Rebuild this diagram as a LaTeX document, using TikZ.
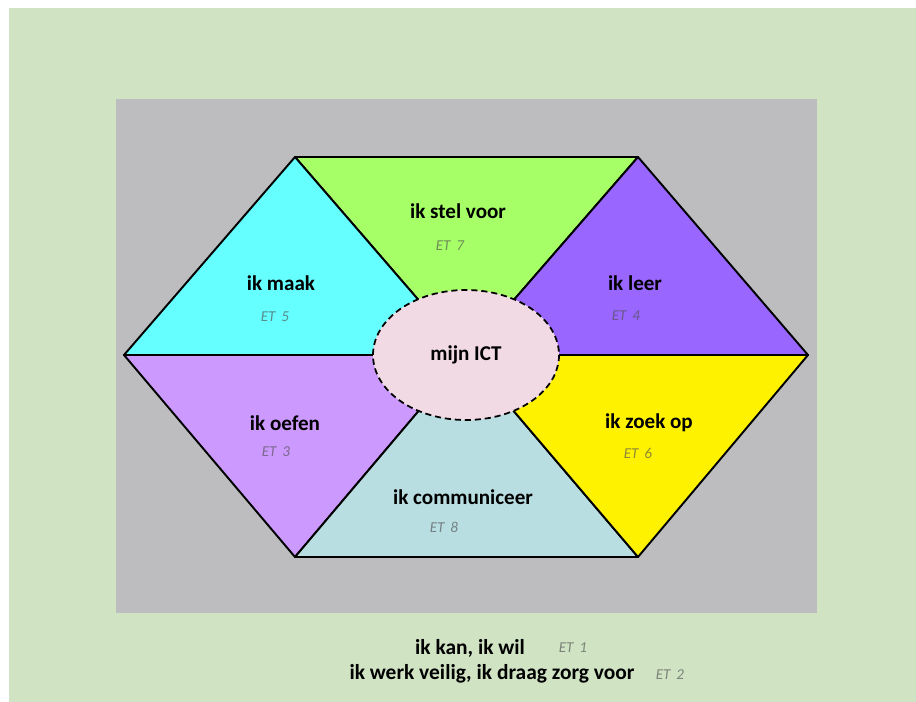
\documentclass[tikz,border=0pt]{standalone}
\usepackage{fontspec}
\setmainfont{Carlito}
\usetikzlibrary{positioning,calc}
\definecolor{bggreen}{RGB}{208,228,196}
\definecolor{panelgray}{RGB}{189,189,191}
\definecolor{tgreen}{RGB}{166,255,102}
\definecolor{tcyan}{RGB}{102,255,255}
\definecolor{tviolet}{RGB}{153,102,255}
\definecolor{tlilac}{RGB}{204,153,255}
\definecolor{tblue}{RGB}{185,222,226}
\definecolor{tyellow}{RGB}{255,242,0}
\definecolor{ictpink}{RGB}{242,218,229}
\definecolor{etgray}{RGB}{80,80,80}

\begin{document}
\begin{tikzpicture}[x=0.02cm,y=-0.02cm,
	lbl/.style={font=\bfseries\fontsize{12}{14}\selectfont},
	big/.style={font=\bfseries\fontsize{12.2}{14}\selectfont},
	et/.style={font=\itshape\fontsize{8.6}{10}\selectfont,text=etgray,text opacity=0.65}]
		\fill[white] (0,0) rectangle (916,702);
		\fill[bggreen] (9,8) rectangle (916,702);
		\fill[panelgray] (116,99) rectangle (817,613);
		\coordinate (c) at (466,355);
		\coordinate (tl) at (295,157);
		\coordinate (tr) at (638,157);
		\coordinate (r) at (808,355);
		\coordinate (br) at (638,557);
		\coordinate (bl) at (295,557);
		\coordinate (l) at (124,355);
		\foreach \a/\b/\col in {tl/tr/tgreen,tl/l/tcyan,tr/r/tviolet,l/bl/tlilac,bl/br/tblue,r/br/tyellow}
		\filldraw[line width=1.1pt,line join=round,fill=\col] (\a) -- (\b) -- (c) -- cycle;
		\filldraw[line width=1pt,dash pattern=on 3.5pt off 2.2pt,fill=ictpink] (c) ellipse [x radius=93,y radius=65];
		\node[lbl] (ict) at (c) {mijn ICT};
		\node[lbl] (voor) at (458,211) {ik stel voor};
		\node[et] (et7) at (450,246) {ET\,\ 7};
		\node[lbl] (maak) at (281,283) {ik maak};
		\node[et] (et5) at (275,317) {ET\,\ 5};
		\node[lbl] (leer) at (635,283) {ik leer};
		\node[et] (et4) at (626,316) {ET\,\ 4};
		\node[lbl] (oefen) at (285,423) {ik oefen};
		\node[et] (et3) at (276,452) {ET\,\ 3};
		\node[lbl] (zoek) at (649,423) {ik zoek op};
		\node[et] (et6) at (638,453) {ET\,\ 6};
		\node[lbl] (comm) at (463,497) {ik communiceer};
		\node[et] (et8) at (444,527) {ET\,\ 8};
		\node[big] (kan) at (470,648) {ik kan, ik wil};
		\node[et] (et1) at (573,648) {ET\,\ 1};
		\node[big] (veilig) at (492,674) {ik werk veilig, ik draag zorg voor};
		\node[et] (et2) at (670,675) {ET\,\ 2};
\end{tikzpicture}
\end{document}
